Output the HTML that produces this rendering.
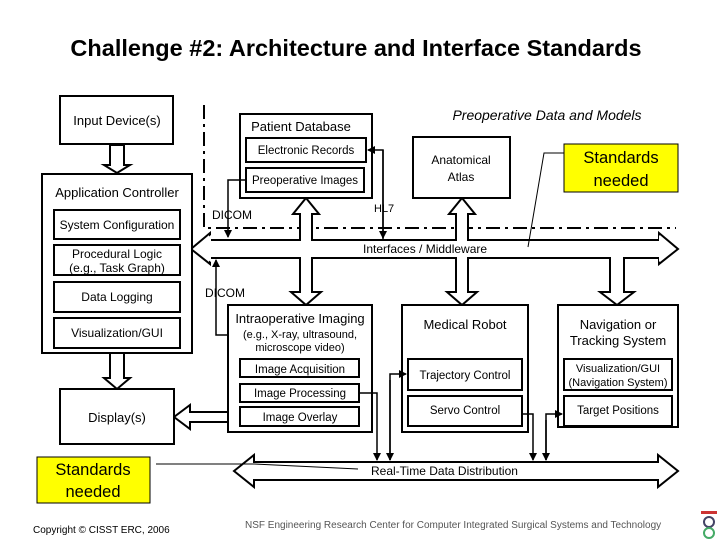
<!DOCTYPE html>
<html><head><meta charset="utf-8"><style>
html,body{margin:0;padding:0;background:#fff}
svg{display:block;font-family:"Liberation Sans",Arial,sans-serif}
</style></head><body>
<svg width="720" height="540" viewBox="0 0 720 540" xmlns="http://www.w3.org/2000/svg">
<defs>
<marker id="ah" markerWidth="8" markerHeight="8" refX="7" refY="4" orient="auto" markerUnits="userSpaceOnUse"><path d="M0,0 L8,4 L0,8 z" fill="#000"/></marker>
</defs>
<text x="356" y="56" font-size="23.5" font-weight="bold" text-anchor="middle">Challenge #2: Architecture and Interface Standards</text>

<!-- dash-dot boundary -->
<path d="M204,105 V228 H676" fill="none" stroke="#000" stroke-width="2" stroke-dasharray="14,5,3,5"/>

<g fill="#fff" stroke="#000" stroke-width="2" stroke-linejoin="miter">
<polygon points="191,249 210,233 210,240 659,240 659,233 678,249 659,264 659,258 210,258 210,264"/>
<polygon points="306,198 319,214 312,214 312,292 321,292 306,305 291,292 300,292 300,214 293,214"/>
<polygon points="462,198 475,214 468,214 468,292 477,292 462,305 447,292 456,292 456,214 449,214"/>
<polygon points="624,256 624,292 634,292 617,305 600,292 610,292 610,256"/>
<polygon points="110,145 110,165 104,165 117,173 130,165 124,165 124,145"/>
<polygon points="110,353 110,378 104,378 117,389 130,378 124,378 124,353"/>
<polygon points="228,412 190,412 190,405 174,417 190,429 190,422 228,422"/>
<polygon points="234,471 254,455 254,462 658,462 658,455 678,471 658,487 658,480 254,480 254,487"/>
</g>
<g fill="#fff" stroke="none">
<polygon points="193,249 211,235 211,241 659,241 659,235 676,249 659,262 659,257 211,257 211,262"/>
<rect x="301" y="212" width="10" height="82"/>
<rect x="457" y="212" width="10" height="82"/>
<rect x="611" y="255" width="12" height="39"/>
</g>

<g fill="#fff" stroke="#000" stroke-width="2">
<rect x="60" y="96" width="113" height="48"/>
<rect x="42" y="174" width="150" height="179"/>
<rect x="54" y="210" width="126" height="29"/>
<rect x="54" y="245" width="126" height="30"/>
<rect x="54" y="282" width="126" height="30"/>
<rect x="54" y="318" width="126" height="30"/>
<rect x="240" y="114" width="132" height="84"/>
<rect x="246" y="138" width="120" height="24"/>
<rect x="246" y="168" width="118" height="24"/>
<rect x="413" y="137" width="97" height="61"/>
<rect x="60" y="389" width="114" height="55"/>
<rect x="228" y="305" width="144" height="127"/>
<rect x="240" y="359" width="119" height="18"/>
<rect x="240" y="384" width="119" height="18"/>
<rect x="240" y="407" width="119" height="19"/>
<rect x="402" y="305" width="126" height="127"/>
<rect x="408" y="359" width="114" height="31"/>
<rect x="408" y="396" width="114" height="30"/>
<rect x="558" y="305" width="120" height="122"/>
<rect x="564" y="359" width="108" height="31"/>
<rect x="564" y="396" width="108" height="30"/>
</g>
<rect x="564" y="144" width="114" height="48" fill="#ffff00" stroke="#000" stroke-width="1"/>
<rect x="37" y="457" width="113" height="46" fill="#ffff00" stroke="#000" stroke-width="1"/>

<g fill="none" stroke="#000" stroke-width="1.5">
<path d="M246,180 H228 V237" marker-end="url(#ah)"/>
<path d="M383,240 V150 H368" marker-end="url(#ah)"/>
<path d="M383,150 V238" marker-end="url(#ah)"/>
<path d="M228,335 H216 V260" marker-end="url(#ah)"/>
<path d="M359,393 H377 V460" marker-end="url(#ah)"/>
<path d="M390,460 V374 H406" marker-end="url(#ah)"/>
<path d="M390,380 V460" marker-end="url(#ah)"/>
<path d="M522,414 H533 V460" marker-end="url(#ah)"/>
<path d="M546,460 V414 H562" marker-end="url(#ah)"/>
<path d="M546,420 V460" marker-end="url(#ah)"/>
</g>
<g fill="none" stroke="#000" stroke-width="1">
<polyline points="564,153 544,153 528,247"/>
<polyline points="156,464 254,464 358,469"/>
</g>

<g font-size="13" text-anchor="middle">
<text x="117" y="125">Input Device(s)</text>
<text x="117" y="197">Application Controller</text>
<text x="117" y="229" font-size="12">System Configuration</text>
<text x="117" y="258" font-size="12">Procedural Logic</text>
<text x="117" y="272" font-size="12">(e.g., Task Graph)</text>
<text x="117" y="301" font-size="12">Data Logging</text>
<text x="117" y="337" font-size="12">Visualization/GUI</text>
<text x="117" y="422">Display(s)</text>
<text x="301" y="131">Patient Database</text>
<text x="306" y="154" font-size="11.5">Electronic Records</text>
<text x="305" y="184" font-size="11.5">Preoperative Images</text>
<text x="461" y="164" font-size="12">Anatomical</text>
<text x="461" y="181" font-size="12">Atlas</text>
<text x="547" y="120" font-style="italic" font-size="14">Preoperative Data and Models</text>
<text x="621" y="163" font-size="16.5">Standards</text>
<text x="621" y="186" font-size="16.5">needed</text>
<text x="93" y="475" font-size="16.5">Standards</text>
<text x="93" y="497" font-size="16.5">needed</text>
<text x="300" y="323">Intraoperative Imaging</text>
<text x="300" y="338" font-size="11">(e.g., X-ray, ultrasound,</text>
<text x="300" y="351" font-size="11">microscope video)</text>
<text x="300" y="373" font-size="11.5">Image Acquisition</text>
<text x="300" y="397" font-size="11.5">Image Processing</text>
<text x="300" y="421" font-size="11.5">Image Overlay</text>
<text x="465" y="329">Medical Robot</text>
<text x="465" y="379" font-size="11.5">Trajectory Control</text>
<text x="465" y="414" font-size="11.5">Servo Control</text>
<text x="618" y="329">Navigation or</text>
<text x="618" y="345">Tracking System</text>
<text x="618" y="372" font-size="11">Visualization/GUI</text>
<text x="618" y="386" font-size="11">(Navigation System)</text>
<text x="618" y="414" font-size="11.5">Target Positions</text>
</g>
<g font-size="12">
<text x="212" y="219">DICOM</text>
<text x="205" y="297">DICOM</text>
<text x="374" y="212" font-size="11">HL7</text>
<text x="363" y="253">Interfaces / Middleware</text>
<text x="371" y="475">Real-Time Data Distribution</text>
</g>
<text x="33" y="533" font-size="10">Copyright © CISST ERC, 2006</text>
<text x="245" y="528" font-size="10" fill="#555">NSF Engineering Research Center for Computer Integrated Surgical Systems and Technology</text>
<g>
<rect x="701" y="511" width="16" height="3" fill="#c33"/>
<circle cx="709" cy="522" r="5" fill="none" stroke="#446" stroke-width="2"/>
<circle cx="709" cy="533" r="5" fill="none" stroke="#4a6" stroke-width="2"/>
</g>
</svg>
</body></html>
